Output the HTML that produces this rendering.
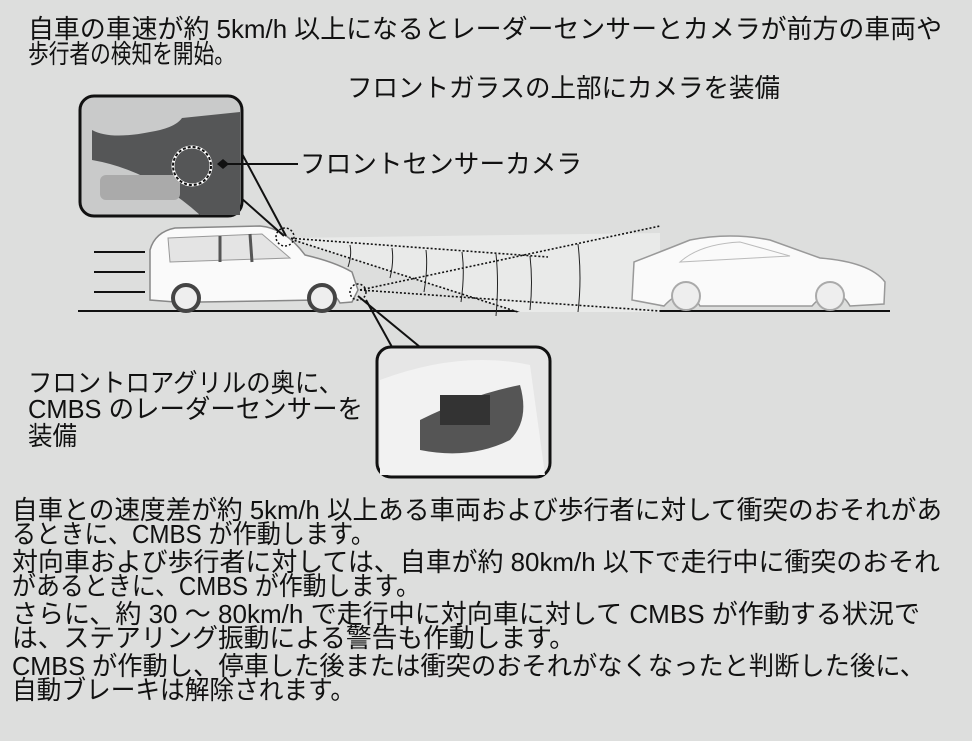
<!DOCTYPE html>
<html><head><meta charset="utf-8"><style>
html,body{margin:0;padding:0;background:#dddedd;}
svg{display:block}
text{font-family:"Liberation Sans","Noto Sans CJK JP",sans-serif;font-size:26px;fill:#111;}
</style></head><body>
<svg width="972" height="741" viewBox="0 0 972 741" xmlns="http://www.w3.org/2000/svg">
<rect width="972" height="741" fill="#dddedd"/>
<text x="28" y="38" textLength="914" lengthAdjust="spacingAndGlyphs">自車の車速が約 5km/h 以上になるとレーダーセンサーとカメラが前方の車両や</text>
<text x="28" y="63" textLength="207" lengthAdjust="spacingAndGlyphs">歩行者の検知を開始。</text>
<text x="347" y="97" textLength="433" lengthAdjust="spacingAndGlyphs">フロントガラスの上部にカメラを装備</text>

<!-- road -->
<line x1="78" y1="311" x2="890" y2="311" stroke="#111" stroke-width="2"/>
<g stroke="#111" stroke-width="2"><line x1="94" y1="252" x2="145" y2="252"/><line x1="94" y1="272" x2="145" y2="272"/><line x1="94" y1="292" x2="145" y2="292"/></g>

<!-- sensing cones -->
<polygon points="287,238 520,312 660,312 660,233" fill="#e9eae9"/>
<g stroke="#111" stroke-width="1.6" stroke-dasharray="2,2" fill="none">
<line x1="287" y1="238" x2="548" y2="257"/>
<line x1="287" y1="238" x2="518" y2="312"/>
<line x1="360" y1="290" x2="660" y2="226"/>
<line x1="360" y1="290" x2="660" y2="311"/>
</g>
<g stroke="#222" stroke-width="1" fill="none">
<path d="M350,245 q2,10 -2,22"/><path d="M392,248 q2,14 -2,30"/><path d="M426,250 q2,18 -2,42"/><path d="M462,252 q3,22 -1,50"/><path d="M496,254 q3,28 0,62"/><path d="M530,256 q3,26 0,54"/><path d="M578,244 q4,34 0,68"/>
</g>

<!-- own car -->
<path d="M150,300 L150,250 Q155,232 175,228 L260,226 Q285,228 305,255 Q335,262 352,272 L358,290 L352,302 L340,303 Q330,285 318,300 L200,302 Q188,285 175,302 Z" fill="#fafafa" stroke="#888" stroke-width="1.5"/>
<path d="M168,238 L262,234 L290,258 L170,262 Z" fill="#e4e4e4" stroke="#999"/>
<line x1="220" y1="236" x2="220" y2="262" stroke="#555" stroke-width="3"/>
<line x1="250" y1="234" x2="252" y2="262" stroke="#555" stroke-width="3"/>
<circle cx="186" cy="298" r="13" fill="#eee" stroke="#444" stroke-width="4"/>
<circle cx="322" cy="298" r="13" fill="#eee" stroke="#444" stroke-width="4"/>

<!-- target car -->
<path d="M632,300 L634,262 Q665,250 690,240 Q730,232 770,240 L820,258 Q870,262 885,282 L884,304 L850,306 Q835,280 812,306 L700,306 Q686,282 664,306 Z" fill="#fafafa" stroke="#999" stroke-width="1.5"/>
<path d="M680,262 Q700,244 740,242 L790,256 Z" fill="none" stroke="#bbb"/>
<circle cx="686" cy="296" r="14" fill="#eee" stroke="#aaa" stroke-width="2"/>
<circle cx="830" cy="296" r="14" fill="#eee" stroke="#aaa" stroke-width="2"/>

<!-- inset 1 -->
<g stroke="#111" stroke-width="2" fill="none">
<line x1="232" y1="190" x2="284" y2="236"/><line x1="240" y1="150" x2="286" y2="236"/>
<line x1="366" y1="300" x2="392" y2="347"/><line x1="358" y1="296" x2="420" y2="347"/>
</g>
<rect x="80" y="96" width="162" height="120" rx="14" fill="#c9caca" stroke="#111" stroke-width="3"/>
<path d="M92,130 Q110,140 150,132 Q175,128 182,118 L240,112 L240,215 L200,215 Q150,170 92,160 Z" fill="#555657"/>
<rect x="100" y="175" width="80" height="25" rx="6" fill="#aaa"/>
<circle cx="192" cy="166" r="19" fill="none" stroke="#fff" stroke-width="3"/>
<circle cx="192" cy="166" r="19" fill="none" stroke="#111" stroke-width="2" stroke-dasharray="3,2"/>
<line x1="225" y1="164" x2="298" y2="164" stroke="#111" stroke-width="2"/>
<polygon points="217,164 223,159 229,164 223,169" fill="#111"/>
<text x="300" y="173" textLength="282" lengthAdjust="spacingAndGlyphs">フロントセンサーカメラ</text>

<circle cx="285" cy="237" r="9" fill="none" stroke="#111" stroke-width="1.5" stroke-dasharray="2,2"/>
<circle cx="358" cy="292" r="8" fill="none" stroke="#111" stroke-width="1.5" stroke-dasharray="2,2"/>

<!-- inset 2 -->
<rect x="377" y="347" width="173" height="130" rx="14" fill="#e6e6e6" stroke="#111" stroke-width="3"/>
<path d="M380,380 Q460,350 530,365 L545,475 L380,475 Z" fill="#f2f2f2"/>
<path d="M420,420 Q470,395 520,385 Q530,420 510,440 Q470,460 420,450 Z" fill="#555"/>
<rect x="440" y="395" width="50" height="30" fill="#333"/>
<text x="28" y="392" textLength="315" lengthAdjust="spacingAndGlyphs">フロントロアグリルの奥に、</text>
<text x="28" y="418" textLength="335" lengthAdjust="spacingAndGlyphs">CMBS のレーダーセンサーを</text>
<text x="28" y="445" textLength="49" lengthAdjust="spacingAndGlyphs">装備</text>

<text x="12" y="519" textLength="930" lengthAdjust="spacingAndGlyphs">自車との速度差が約 5km/h 以上ある車両および歩行者に対して衝突のおそれがあ</text>
<text x="12" y="543" textLength="363" lengthAdjust="spacingAndGlyphs">るときに、CMBS が作動します。</text>
<text x="12" y="571" textLength="928" lengthAdjust="spacingAndGlyphs">対向車および歩行者に対しては、自車が約 80km/h 以下で走行中に衝突のおそれ</text>
<text x="12" y="595" textLength="408" lengthAdjust="spacingAndGlyphs">があるときに、CMBS が作動します。</text>
<text x="12" y="623" textLength="908" lengthAdjust="spacingAndGlyphs">さらに、約 30 〜 80km/h で走行中に対向車に対して CMBS が作動する状況で</text>
<text x="12" y="647" textLength="563" lengthAdjust="spacingAndGlyphs">は、ステアリング振動による警告も作動します。</text>
<text x="12" y="675" textLength="913" lengthAdjust="spacingAndGlyphs">CMBS が作動し、停車した後または衝突のおそれがなくなったと判断した後に、</text>
<text x="12" y="699" textLength="343" lengthAdjust="spacingAndGlyphs">自動ブレーキは解除されます。</text>
</svg>
</body></html>
